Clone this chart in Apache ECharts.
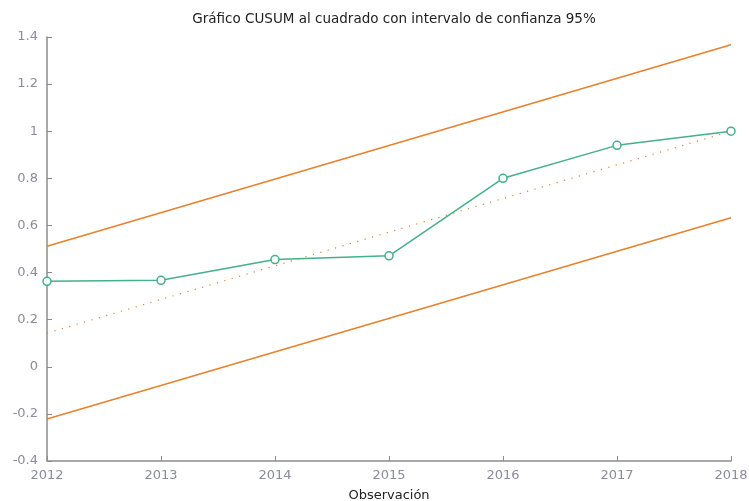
<!DOCTYPE html>
<html>
<head>
<meta charset="utf-8">
<script src="https://cdn.jsdelivr.net/npm/echarts@6/dist/echarts.min.js"></script>
<style>
  html, body { margin: 0; padding: 0; background: #fff; overflow: hidden; }
  #chart { width: 749px; height: 501px; }
</style>
</head>
<body>
<div id="chart"></div>
<script>
// Observations and squared CUSUM values
const years = [2012, 2013, 2014, 2015, 2016, 2017, 2018];
const cusumsq = [0.363, 0.367, 0.455, 0.471, 0.800, 0.940, 1.000];

// Straight reference lines, given by their end points
const lineEnds = [2012, 2018];
const upperBand = [0.512, 1.367];
const lowerBand = [-0.222, 0.633];
const expected = [0.143, 1.000];

const yTicks = { min: -0.4, max: 1.4, interval: 0.2 };

const pairs = (xs, ys) => xs.map((x, i) => [x, ys[i]]);

const font = 'DejaVu Sans';
const labelColor = '#8a8c9c';
const axisColor = '#8c8c8c';
const orange = '#e8802c';
const green = '#45b08a';

const chart = echarts.init(document.getElementById('chart'), null, { width: 749, height: 501 });
chart.setOption({
  animation: false,
  title: {
    text: 'Gráfico CUSUM al cuadrado con intervalo de confianza 95%',
    left: 389, textAlign: 'center', top: 7,
    textStyle: { fontFamily: font, fontSize: 13.5, fontWeight: 'normal', color: '#222' }
  },
  grid: { left: 47, right: 18, top: 37, bottom: 40, containLabel: false, outerBoundsMode: 'none' },
  xAxis: {
    type: 'value', min: years[0], max: years[years.length - 1], interval: 1,
    name: 'Observación', nameLocation: 'middle', nameGap: 28,
    nameTextStyle: { fontFamily: font, fontSize: 13, color: '#222' },
    axisLine: { onZero: false, lineStyle: { color: axisColor, width: 1.5 } },
    axisTick: { inside: true, length: 5, lineStyle: { color: axisColor } },
    axisLabel: { fontFamily: font, fontSize: 13, color: labelColor, margin: 8,
      formatter: v => String(v) },
    splitLine: { show: false }
  },
  yAxis: {
    type: 'value', min: yTicks.min, max: yTicks.max, interval: yTicks.interval,
    axisLine: { show: true, onZero: false, lineStyle: { color: axisColor, width: 1.5 } },
    axisTick: { show: true, inside: true, length: 5, lineStyle: { color: axisColor } },
    axisLabel: { fontFamily: font, fontSize: 13, color: labelColor, margin: 9 },
    splitLine: { show: false }
  },
  series: [
    {
      type: 'line', data: pairs(lineEnds, upperBand), symbol: 'none',
      lineStyle: { color: orange, width: 1.5 }, z: 2
    },
    {
      type: 'line', data: pairs(lineEnds, lowerBand), symbol: 'none',
      lineStyle: { color: orange, width: 1.5 }, z: 2
    },
    {
      type: 'line', data: pairs(lineEnds, expected), symbol: 'none',
      lineStyle: { color: orange, width: 1.2, type: [1.2, 6.5] }, z: 2
    },
    {
      type: 'line', data: pairs(years, cusumsq),
      symbol: 'circle', symbolSize: 8,
      itemStyle: { color: '#fff', borderColor: green, borderWidth: 1.5 },
      lineStyle: { color: green, width: 1.5 }, z: 3
    }
  ]
});
</script>
</body>
</html>
